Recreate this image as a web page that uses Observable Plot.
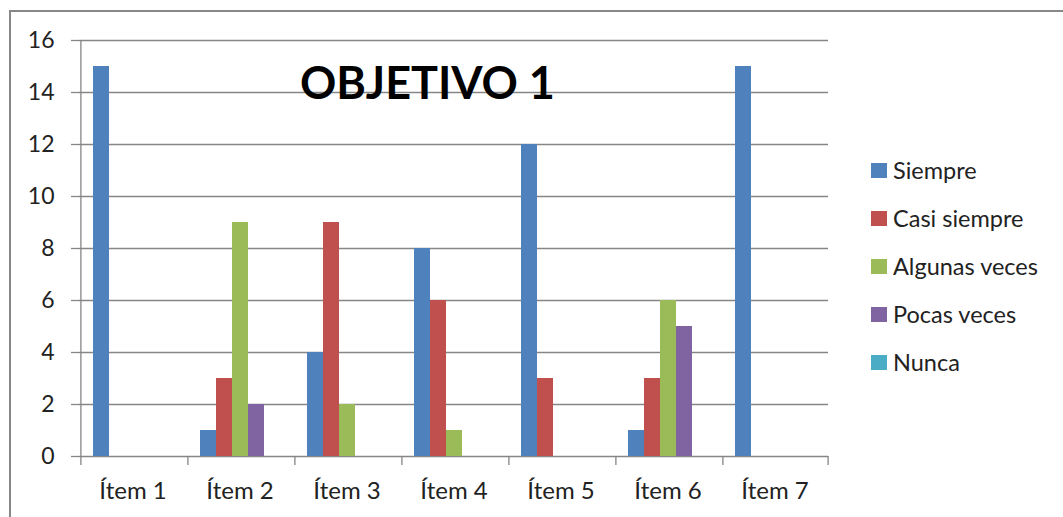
<!DOCTYPE html>
<html>
<head>
<meta charset="utf-8">
<script src="https://cdn.jsdelivr.net/npm/d3@7"></script>
<script src="https://cdn.jsdelivr.net/npm/@observablehq/plot@0.6"></script>
<style>
  html, body { margin: 0; padding: 0; background: #fff; }
  #wrap { position: relative; width: 1063px; height: 517px; overflow: hidden; font-family: Lato, "Open Sans", sans-serif; color: #222; }
  #border { position: absolute; left: 9px; top: 10px; width: 1100px; height: 600px; border-left: 2px solid #878787; border-top: 2px solid #878787; }
  #chart { position: absolute; left: 0; top: 0; }
  #title { position: absolute; left: 300px; top: 60px; font-size: 45px; font-weight: bold; line-height: 45px; color: #000; white-space: nowrap; }
  #legend { position: absolute; left: 871px; top: 146px; font-size: 23.5px; }
  .row { display: flex; align-items: center; height: 48px; }
  .sw { width: 16px; height: 15px; margin-right: 6px; }
</style>
</head>
<body>
<div id="wrap">
  <div id="border"></div>
  <div id="chart"></div>
  <div id="title">OBJETIVO 1</div>
  <div id="legend"></div>
</div>
<script>
const items = ["Ítem 1", "Ítem 2", "Ítem 3", "Ítem 4", "Ítem 5", "Ítem 6", "Ítem 7"];
const seriesNames = ["Siempre", "Casi siempre", "Algunas veces", "Pocas veces", "Nunca"];
const siempre      = [15, 1, 4, 8, 12, 1, 15];
const casiSiempre  = [0, 3, 9, 6, 3, 3, 0];
const algunasVeces = [0, 9, 2, 1, 0, 6, 0];
const pocasVeces   = [0, 2, 0, 0, 0, 5, 0];
const nunca        = [0, 0, 0, 0, 0, 0, 0];
const seriesColors = ["#4F81BD", "#C0504D", "#9BBB59", "#8064A2", "#4BACC6"];
const yTicks = [0, 2, 4, 6, 8, 10, 12, 14, 16];

const seriesValues = [siempre, casiSiempre, algunasVeces, pocasVeces, nunca];
const rows = [];
items.forEach((item, i) => {
  seriesNames.forEach((s, j) => rows.push({item, series: s, value: seriesValues[j][i]}));
});

const W = 850, H = 517, ML = 78, MR = 22, MT = 40, MB = 61;
const innerH = H - MT - MB;
const bandW = (W - ML - MR) / items.length;
const step = bandW / (seriesNames.length + 1.5);
const edgeOffset = 1.25 * step; // from first bar centre to category boundary
const grid = "#868686";

const chart = Plot.plot({
  width: W, height: H,
  marginLeft: ML, marginRight: MR, marginTop: MT, marginBottom: MB,
  style: {fontFamily: "Lato, 'Open Sans', sans-serif", fontSize: "23px", color: "#222", background: "transparent", overflow: "visible"},
  fx: {domain: items, padding: 0, label: null, axis: null},
  x: {domain: seriesNames, paddingInner: 0, paddingOuter: 0.75, axis: null},
  y: {domain: [0, 16], axis: null},
  color: {domain: seriesNames, range: seriesColors},
  marks: [
    Plot.ruleY(yTicks, {y: d => d, stroke: grid, strokeWidth: 1.3}),
    Plot.barY(rows, {fx: "item", x: "series", y: "value", fill: "series"}),
    // category boundary ticks (left edges)
    Plot.ruleX(items.slice(1), {fx: d => d, x: () => seriesNames[0], dx: -edgeOffset, stroke: grid, strokeWidth: 1.3, insetTop: innerH, insetBottom: -9}),
    // right end tick
    Plot.ruleX(items.slice(-1), {fx: d => d, x: () => seriesNames[seriesNames.length - 1], dx: edgeOffset, stroke: grid, strokeWidth: 1.3, insetTop: innerH, insetBottom: -9}),
    // vertical axis line
    Plot.ruleX(items.slice(0, 1), {fx: d => d, x: () => seriesNames[0], dx: -edgeOffset, stroke: grid, strokeWidth: 1.3, insetBottom: -9}),
    Plot.axisY({ticks: yTicks, tickSize: 8, tickPadding: 17, stroke: grid, strokeWidth: 1.3, fill: "#222", fontSize: 23, label: null}),
    Plot.axisFx({anchor: "bottom", tickSize: 0, tickPadding: 25, fill: "#222", fontSize: 24, label: null})
  ]
});
document.getElementById("chart").appendChild(chart);

const legend = document.getElementById("legend");
seriesNames.forEach((s, i) => {
  const row = document.createElement("div");
  row.className = "row";
  const sw = document.createElement("div");
  sw.className = "sw";
  sw.style.background = seriesColors[i];
  const t = document.createElement("span");
  t.textContent = s;
  row.appendChild(sw);
  row.appendChild(t);
  legend.appendChild(row);
});
</script>
</body>
</html>
